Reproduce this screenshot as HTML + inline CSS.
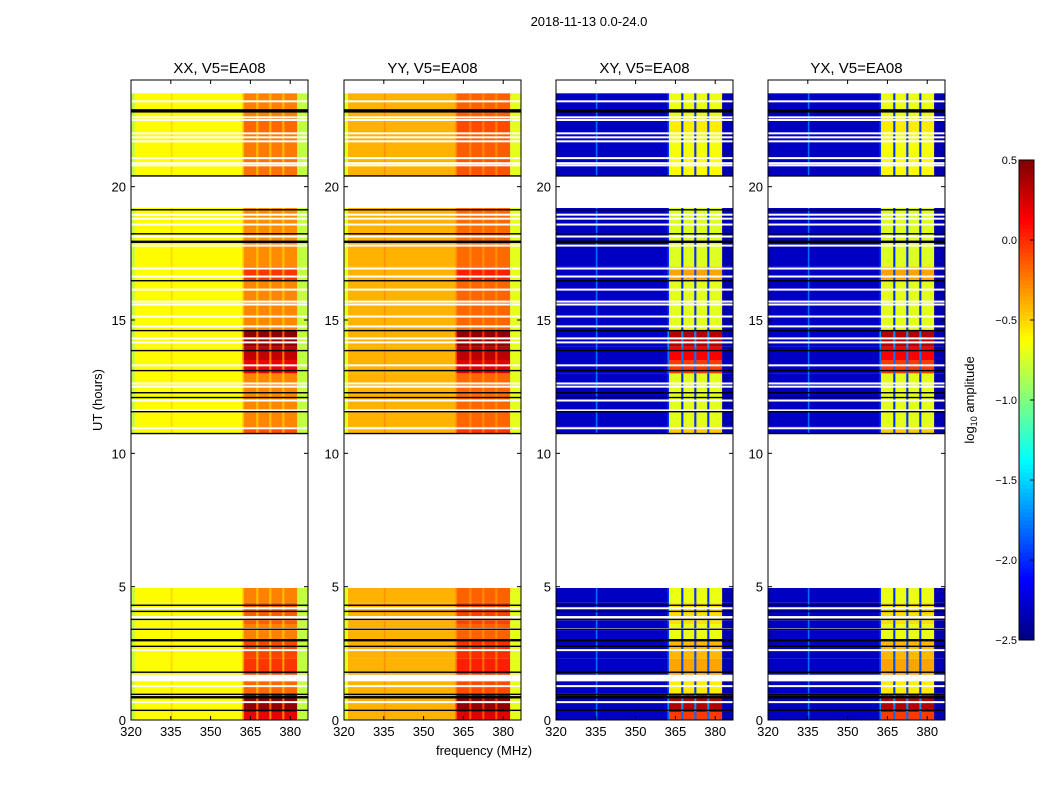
<!DOCTYPE html>
<html><head><meta charset="utf-8"><style>
body{margin:0;background:#fff;}
svg text{font-family:"Liberation Sans","DejaVu Sans",sans-serif;}
</style></head><body>
<svg id="fig" width="1050" height="800" viewBox="0 0 1050 800" xmlns="http://www.w3.org/2000/svg">
<text x="589" y="26" font-size="13" text-anchor="middle">2018-11-13 0.0-24.0</text>
<text x="0" y="0" font-size="13" text-anchor="middle" transform="translate(102,400) rotate(-90)">UT (hours)</text>
<text x="484" y="755" font-size="13" text-anchor="middle">frequency (MHz)</text>
<text x="0" y="0" font-size="13" text-anchor="middle" transform="translate(974,400) rotate(-90)">log<tspan font-size="9" dy="3">10</tspan><tspan dy="-3"> amplitude</tspan></text>
<g id="panels"></g>
<g id="cbar"></g>
</svg>
<script>
// ---- data ----
const panelTitles = ["XX, V5=EA08","YY, V5=EA08","XY, V5=EA08","YX, V5=EA08"];
const freqEdges = [320,321.5,335,335.6,362,362.6,367.2,368,372.1,372.9,377,377.8,382.6,386.7];
// interval kinds: b=base, l=line, s=band, g=gap, e=edge
const freqKinds = ["e","b","l","b","g","s","g","s","g","s","g","s","e"];
const baseVals = [-0.62,-0.4,-2.3,-2.3];
const lineVals = [-0.5,-0.3,-1.8,-1.8];
const edgeVals = [-0.8,-0.7,-2.35,-2.35];
const band0Vals = [-0.3,-0.2,-0.75,-0.75];
const band1Vals = [0.45,0.45,0.35,0.35];
const gapVals = [-0.45,-0.3,-2.0,-2.0];
const blockStart = [0,0.3,1.0, 1.7,2.3,3.0,3.6,4.4, 10.75,11.0,13.0,13.5,14.0,14.6,16.5,17.0, 20.4,21.0,22.0,22.6];
const blockEnd   = [0.3,1.0,1.45, 2.3,3.0,3.6,4.4,4.95, 11.0,13.0,13.5,14.0,14.6,16.5,17.0,19.2, 21.0,22.0,22.6,23.5];
const blockHot   = [0.8,1.0,0.4, 0.6,0.55,0.25,0.45,0.25, 0.5,0.2,0.8,0.9,1.0,0.2,0.6,0.15, 0.35,0.3,0.4,0.25];
const blackLines = [22.85,20.41,19.14,18.24,17.94,16.48,14.61,13.86,13.11,12.28,12.10,11.57,10.75,4.31,4.08,3.78,3.41,3.0,2.77,1.8,0.97,0.86,0.37];
const blackThick = [3,1,1,1,2,1,1,1,1,1,1,1,1,1,1,1,1,2,1,1,1,2,1];
const whiteLines = [23.2,22.6,22.5,22.0,21.85,21.7,21.07,20.88,20.8, 18.95,18.8,18.58,18.13,17.79,16.93,16.63,16.14,15.69,15.58,15.13,14.76,14.31,14.16,13.3,12.62,12.5,11.98,11.61,10.94, 4.19,3.86,3.78,3.41,2.62, 1.27,0.67];
const xTicks = [320,335,350,365,380];
const yTicks = [0,5,10,15,20];
const cbTicks = [0.5,0.0,-0.5,-1.0,-1.5,-2.0,-2.5];
const cbLabels = ["0.5","0.0","\u22120.5","\u22121.0","\u22121.5","\u22122.0","\u22122.5"];
// ---- layout ----
const NS="http://www.w3.org/2000/svg";
const panelX=[131,344,556,768], PW=177, PT=80, PB=720;
const fmin=320,fmax=386.7,tmax=24;
const vmin=-2.5,vmax=0.5;
function xs(p,f){return panelX[p]+(f-fmin)/(fmax-fmin)*PW;}
function ys(t){return PB-t/tmax*(PB-PT);}
function jet(v){let t=Math.max(0,Math.min(1,(v-vmin)/(vmax-vmin)));
 const c=x=>Math.round(255*Math.max(0,Math.min(1,x)));
 return `rgb(${c(1.5-Math.abs(4*t-3))},${c(1.5-Math.abs(4*t-2))},${c(1.5-Math.abs(4*t-1))})`;}
function mk(tag,attrs,parent){const e=document.createElementNS(NS,tag);for(const k in attrs)e.setAttribute(k,attrs[k]);parent.appendChild(e);return e;}
const G=document.getElementById('panels');
for(let p=0;p<4;p++){
 const g=mk('g',{},G);
 
 
 for(let b=0;b<blockStart.length;b++){
  const y1=ys(blockEnd[b]),y2=ys(blockStart[b]);
  const h2=blockHot[b]*blockHot[b];
  for(let i=0;i<freqKinds.length;i++){
   const k=freqKinds[i];let v;
   if(k==='b')v=baseVals[p];else if(k==='l')v=lineVals[p];else if(k==='e')v=edgeVals[p];
   else if(k==='s')v=band0Vals[p]+(band1Vals[p]-band0Vals[p])*h2;
   else v=gapVals[p]+0.3*h2;
   const x1=xs(p,freqEdges[i]),x2=xs(p,freqEdges[i+1]);
   const r=mk('rect',{x:x1,y:y1,width:x2-x1+0.3,height:y2-y1,fill:jet(v)},g);
   
   
  }
 }
 whiteLines.forEach(h=>{const r=mk('rect',{x:panelX[p],y:ys(h)-1,width:PW,height:2,fill:'#fff'},g);
  
  });
 blackLines.forEach((h,i)=>{const r=mk('rect',{x:panelX[p],y:ys(h)-blackThick[i]/2,width:PW,height:blackThick[i]+0.4,fill:'#000'},g);
  
  });
 const fr=mk('rect',{x:panelX[p],y:PT,width:PW,height:PB-PT,fill:'none',stroke:'#000','stroke-width':1},g);
 
 
 const tt=mk('text',{x:panelX[p]+PW/2,y:73,'font-size':15,'text-anchor':'middle'},g);tt.textContent=panelTitles[p];
 
 
 xTicks.forEach(f=>{const x=xs(p,f);
  mk('line',{x1:x,x2:x,y1:PB,y2:PB-4,stroke:'#000'},g);mk('line',{x1:x,x2:x,y1:PT,y2:PT+4,stroke:'#000'},g);
  const t=mk('text',{x:x,y:PB+16,'font-size':13,'text-anchor':'middle'},g);t.textContent=f;
  
  });
 yTicks.forEach(h=>{const y=ys(h);
  mk('line',{x1:panelX[p],x2:panelX[p]+4,y1:y,y2:y,stroke:'#000'},g);mk('line',{x1:panelX[p]+PW,x2:panelX[p]+PW-4,y1:y,y2:y,stroke:'#000'},g);
  const t=mk('text',{x:panelX[p]-5,y:y+5,'font-size':13,'text-anchor':'end'},g);t.textContent=h;
  
  });
}
// colorbar
const C=document.getElementById('cbar');
const cx=1019,cw=15,cy1=160,cy2=640;
function cys(v){return cy2-(v-vmin)/(vmax-vmin)*(cy2-cy1);}
for(let i=0;i<120;i++){const v=vmin+(i+0.5)*(vmax-vmin)/120;
 const y=cys(vmin+(i+1)*(vmax-vmin)/120);
 mk('rect',{x:cx,y:y,width:cw,height:(cy2-cy1)/120+0.5,fill:jet(v)},C);}
const cf=mk('rect',{x:cx,y:cy1,width:cw,height:cy2-cy1,fill:'none',stroke:'#000'},C);


cbTicks.forEach((v,i)=>{const y=cys(v);
 mk('line',{x1:cx+cw-4,x2:cx+cw,y1:y,y2:y,stroke:'#000'},C);
 const t=mk('text',{x:cx-2,y:y+4,'font-size':11,'text-anchor':'end'},C);t.textContent=cbLabels[i];
 
 });
</script>
</body></html>
